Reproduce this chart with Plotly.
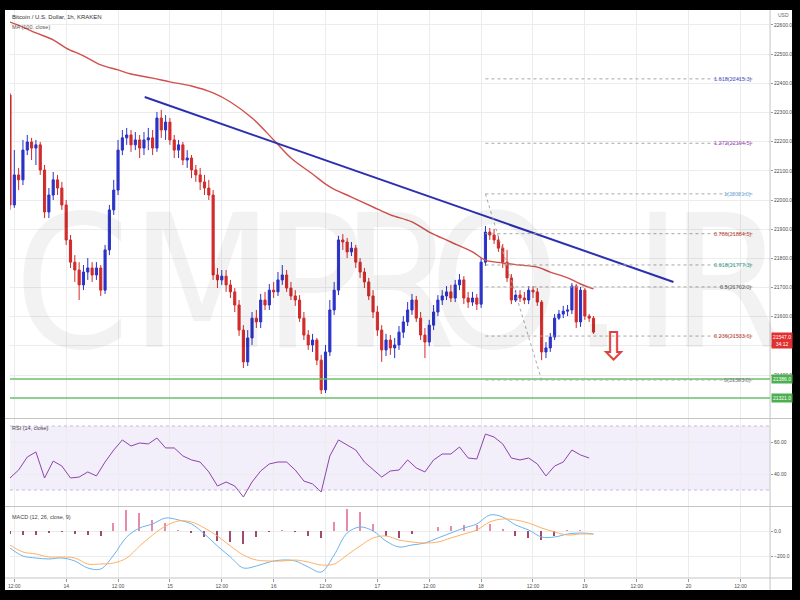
import pandas as pd
import plotly.graph_objects as go
from plotly.subplots import make_subplots

# ---------------- data ----------------
start_time = "2022-09-13 11:00"
n_candles = 136
first_open = 22360
closes = [21983, 22086, 22069, 22171, 22199, 22178, 22189, 22103, 21959, 22017,
          22069, 22041, 21983, 21863, 21787, 21760, 21709, 21753, 21767, 21743,
          21767, 21691, 21829, 21966, 22034, 22171, 22213, 22223, 22189, 22206,
          22178, 22206, 22213, 22178, 22281, 22240, 22267, 22206, 22171, 22189,
          22137, 22144, 22103, 22086, 22062, 22041, 22017, 21743, 21726, 21739,
          21709, 21685, 21640, 21554, 21445, 21527, 21595, 21582, 21657, 21640,
          21691, 21685, 21726, 21743, 21698, 21671, 21657, 21595, 21537, 21503,
          21520, 21451, 21349, 21479, 21623, 21691, 21863, 21856, 21822, 21835,
          21787, 21753, 21719, 21671, 21616, 21554, 21486, 21520, 21493, 21503,
          21547, 21582, 21623, 21657, 21595, 21537, 21513, 21571, 21616, 21657,
          21671, 21685, 21664, 21709, 21726, 21664, 21650, 21664, 21643, 21787,
          21890, 21880, 21863, 21835, 21787, 21733, 21657, 21674, 21664, 21657,
          21691, 21685, 21650, 21479, 21493, 21530, 21595, 21609, 21619, 21623,
          21705, 21582, 21691, 21602, 21595, 21547]
highs = [22367, 22171, 22110, 22206, 22223, 22213, 22206, 22199, 22120, 22041,
         22096, 22086, 22062, 22000, 21880, 21811, 21787, 21777, 21801, 21787,
         21787, 21777, 21846, 21983, 22069, 22206, 22240, 22247, 22240, 22233,
         22223, 22233, 22247, 22240, 22302, 22309, 22291, 22281, 22223, 22206,
         22199, 22171, 22154, 22120, 22110, 22086, 22069, 22034, 21767, 21760,
         21760, 21726, 21698, 21657, 21571, 21554, 21616, 21623, 21678, 21685,
         21712, 21719, 21753, 21777, 21760, 21719, 21691, 21674, 21616, 21554,
         21541, 21527, 21469, 21503, 21657, 21719, 21877, 21883, 21870, 21856,
         21846, 21801, 21767, 21733, 21691, 21637, 21571, 21541, 21537, 21527,
         21568, 21602, 21650, 21678, 21671, 21616, 21561, 21589, 21640, 21674,
         21691, 21705, 21709, 21726, 21746, 21739, 21685, 21685, 21678, 21801,
         21911, 21904, 21901, 21877, 21849, 21829, 21746, 21691, 21691, 21685,
         21705, 21705, 21698, 21657, 21513, 21544, 21609, 21623, 21637, 21640,
         21715, 21712, 21702, 21698, 21609, 21602]
lows = [21966, 21973, 22034, 22051, 22154, 22137, 22120, 22086, 21938, 21938,
        22000, 22017, 21966, 21846, 21767, 21719, 21657, 21691, 21726, 21719,
        21726, 21671, 21678, 21811, 21949, 22017, 22154, 22189, 22165, 22171,
        22144, 22154, 22171, 22154, 22165, 22213, 22206, 22189, 22144, 22144,
        22120, 22110, 22075, 22062, 22034, 22017, 22000, 21726, 21698, 21709,
        21685, 21664, 21616, 21534, 21424, 21431, 21503, 21561, 21561, 21623,
        21623, 21664, 21671, 21709, 21685, 21657, 21637, 21582, 21520, 21486,
        21479, 21434, 21335, 21338, 21465, 21606, 21674, 21829, 21801, 21808,
        21767, 21733, 21698, 21657, 21595, 21534, 21445, 21465, 21469, 21458,
        21486, 21527, 21568, 21606, 21582, 21520, 21458, 21499, 21554, 21602,
        21640, 21657, 21650, 21650, 21691, 21643, 21630, 21637, 21623, 21630,
        21774, 21863, 21849, 21822, 21767, 21719, 21643, 21650, 21650, 21643,
        21643, 21664, 21637, 21451, 21458, 21479, 21520, 21589, 21595, 21602,
        21609, 21561, 21565, 21589, 21582, 21541]

ma_index = [0, 3, 6, 10, 13, 17, 21, 25, 28, 33, 37, 42, 47, 51, 56, 61, 65, 70, 74,
            79, 84, 88, 93, 97, 102, 107, 110, 114, 118, 122, 125, 129, 132, 135]
ma_values = [22610, 22593, 22573, 22549, 22521, 22494, 22463, 22446, 22432, 22418,
             22405, 22391, 22367, 22336, 22281, 22206, 22144, 22089, 22045, 22010,
             21976, 21949, 21925, 21890, 21856, 21822, 21794, 21784, 21777, 21770,
             21753, 21733, 21712, 21695]

rsi_values = [37.5, 42.5, 50.6, 53.8, 37.5, 48.1, 45.0, 37.5, 38.1, 41.3,
              38.8, 47.5, 55.0, 61.3, 57.5, 59.4, 58.8, 62.5, 56.3, 56.3,
              51.3, 48.8, 47.5, 41.3, 32.5, 35.0, 32.5, 25.6, 35.0, 41.9,
              46.3, 47.5, 47.5, 42.5, 35.6, 33.8, 28.8, 51.3, 61.3, 58.1,
              55.0, 47.5, 42.5, 38.1, 41.9, 42.5, 48.8, 43.8, 41.3, 48.8,
              52.5, 52.5, 56.9, 50.0, 49.4, 65.0, 63.1, 58.8, 50.0, 48.8,
              50.0, 46.3, 38.8, 45.0, 47.5, 55.0, 51.9, 50.0]

macd_values = [-136, -200, -216, -224, -216, -240, -296, -304, -192, -48,
               24, 56, 104, 88, 56, -24, -120, -208, -296, -280,
               -248, -232, -240, -288, -328, -192, -16, 32, 0, -80,
               -128, -112, -96, -56, -16, 24, 56, 128, 112, 48,
               8, -48, -48, -24, -16, -24]
signal_values = [-112, -168, -184, -208, -208, -216, -264, -264, -256, -216,
                 -120, -32, 40, 80, 72, 24, -40, -120, -192, -232,
                 -240, -240, -232, -248, -272, -264, -192, -120, -56, -40,
                 -72, -88, -96, -88, -56, -24, 8, 72, 96, 88,
                 64, 24, -8, -32, -24, -24]
hist_values = [-24, -32, -32, -16, -8, -24, -32, -40, 64, 168,
               144, 88, 64, 8, -16, -48, -80, -88, -104, -48,
               -8, 8, -8, -40, -56, 72, 176, 152, 56, -40,
               -56, -24, 0, 32, 40, 48, 48, 56, 16, -40,
               -56, -72, -40, 8, 8, 0]

price_ticks = [21400, 21500, 21600, 21700, 21800, 21900, 22000, 22100, 22200,
               22300, 22400, 22500, 22600]
rsi_ticks = [40, 60]
macd_ticks = [-200, 0]
time_tick_start = "2022-09-13 12:00"
time_tick_labels = ["12:00", "14", "12:00", "15", "12:00", "16", "12:00", "17",
                    "12:00", "18", "12:00", "19", "12:00", "20", "12:00"]

trend_times = ["2022-09-14 18:10", "2022-09-19 20:30"]
trend_prices = [22353, 21719]
fib_low, fib_high = 21383, 22021
fib_levels = [0, 0.236, 0.5, 0.618, 0.786, 1, 1.272, 1.618]
fib_label_colors = ["#787b86", "#c0392b", "#555555", "#1e9e8a", "#c0392b",
                    "#64a8e0", "#a13fc0", "#4b4fd0"]
fib_times = ["2022-09-18 01:00", "2022-09-20 15:00"]
fib_diag_end = "2022-09-18 14:00"
support_prices = [21386, 21321]
arrow_time, arrow_price = "2022-09-19 06:40", 21500
countdown = "34:12"

# ---------------- figure ----------------
times = pd.date_range(start_time, periods=n_candles, freq="h")
opens = [first_open] + closes[:-1]
tick_times = pd.date_range(time_tick_start, periods=len(time_tick_labels), freq="12h")

W, H = 800, 600
def px(x):
    return x / W
def py(y):
    return 1 - y / H

fig = make_subplots(rows=3, cols=1, shared_xaxes=True, vertical_spacing=0.0)

fig.add_trace(go.Candlestick(
    x=times, open=opens, high=highs, low=lows, close=closes,
    increasing=dict(line=dict(color="#2b33c6", width=1), fillcolor="#2b33c6"),
    decreasing=dict(line=dict(color="#d12b2b", width=1), fillcolor="#d12b2b"),
    whiskerwidth=0, hoverinfo="skip"), row=1, col=1)

fig.add_trace(go.Scatter(
    x=times[ma_index], y=ma_values, mode="lines",
    line=dict(color="#d0504c", width=1.4, shape="spline"), hoverinfo="skip"),
    row=1, col=1)

fig.add_trace(go.Scatter(
    x=times[::2], y=rsi_values, mode="lines",
    line=dict(color="#8e44ad", width=1), hoverinfo="skip"), row=2, col=1)

macd_times = times[::3]
fig.add_trace(go.Bar(
    x=macd_times, y=hist_values, width=0.35 * 3600 * 1000,
    marker=dict(color=["#e88aac" if v >= 0 else "#a04a70" for v in hist_values],
                line=dict(width=0)), hoverinfo="skip"), row=3, col=1)
fig.add_trace(go.Scatter(
    x=macd_times, y=macd_values, mode="lines",
    line=dict(color="#6ab4f0", width=1, shape="spline"), hoverinfo="skip"), row=3, col=1)
fig.add_trace(go.Scatter(
    x=macd_times, y=signal_values, mode="lines",
    line=dict(color="#ffb066", width=1, shape="spline"), hoverinfo="skip"), row=3, col=1)

xrange = ["2022-09-13 11:00", "2022-09-20 18:51"]
xdom = [px(8), px(770)]
grid = "#ececec"
tickfont = dict(size=5, color="#4a4a4a")

for i, dom in zip([1, 2, 3], [[py(418), py(10)], [py(506), py(419)], [py(578), py(507)]]):
    xa = "xaxis" if i == 1 else f"xaxis{i}"
    ya = "yaxis" if i == 1 else f"yaxis{i}"
    fig.layout[xa].update(domain=xdom, range=xrange, tickvals=tick_times,
                          ticktext=time_tick_labels, showgrid=True, gridcolor=grid,
                          showticklabels=(i == 3), rangeslider=dict(visible=False),
                          zeroline=False, ticks="outside" if i == 3 else "",
                          ticklen=3, tickcolor="#999", tickfont=tickfont,
                          showline=False)
    fig.layout[ya].update(domain=dom, side="right", showgrid=True, gridcolor=grid,
                          zeroline=False, ticks="outside", ticklen=2,
                          tickcolor="#999", tickfont=tickfont, showline=False)

fig.update_yaxes(range=[21252.6, 22651.4], tickvals=price_ticks, tickformat=".1f", row=1, col=1)
fig.update_yaxes(range=[20.0, 74.4], tickvals=rsi_ticks, tickformat=".2f", row=2, col=1)
fig.update_yaxes(range=[-376, 192], tickvals=macd_ticks, tickformat=".1f", row=3, col=1)

shapes = []
# white chart area over black frame
shapes.append(dict(type="rect", xref="paper", yref="paper", x0=px(3), x1=px(792),
                   y0=py(590), y1=py(10), fillcolor="white", line=dict(width=0),
                   layer="below"))
# RSI band
shapes.append(dict(type="rect", xref="x2 domain", yref="y2", x0=0, x1=1, y0=30, y1=70,
                   fillcolor="rgba(155,120,215,0.13)", line=dict(width=0), layer="below"))
for lv in [30, 70]:
    shapes.append(dict(type="line", xref="x2 domain", yref="y2", x0=0, x1=1, y0=lv, y1=lv,
                       line=dict(color="#c8b8e0", width=1, dash="dot")))
# pane separators and axis border
for yy in [418.5, 506.5, 578]:
    shapes.append(dict(type="line", xref="paper", yref="paper", x0=px(3), x1=px(792),
                       y0=py(yy), y1=py(yy), line=dict(color="#c4c4c4", width=1)))
shapes.append(dict(type="line", xref="paper", yref="paper", x0=px(770), x1=px(770),
                   y0=py(590), y1=py(10), line=dict(color="#c4c4c4", width=1)))
# support lines
for sp in support_prices:
    shapes.append(dict(type="line", xref="x domain", yref="y", x0=0, x1=1, y0=sp, y1=sp,
                       line=dict(color="#6cbf6c", width=1.5)))
# trend line
shapes.append(dict(type="line", xref="x", yref="y", x0=trend_times[0], y0=trend_prices[0],
                   x1=trend_times[1], y1=trend_prices[1],
                   line=dict(color="#2c2fb0", width=2)))
# fib levels
fib_prices = [fib_low + r * (fib_high - fib_low) for r in fib_levels]
for fp in fib_prices:
    shapes.append(dict(type="line", xref="x", yref="y", x0=fib_times[0], x1=fib_times[1],
                       y0=fp, y1=fp, line=dict(color="#a8a8a8", width=1, dash="dot")))
shapes.append(dict(type="line", xref="x", yref="y", x0=fib_times[0], y0=fib_high,
                   x1=fib_diag_end, y1=fib_low,
                   line=dict(color="#a8a8a8", width=1, dash="dot")))
fig.update_layout(shapes=shapes)

ann = []
# watermark
for ch, cx in zip(list("CMPRO.IR"), [70, 200, 312, 398, 494, 598, 657, 728]):
    ann.append(dict(text=ch, x=px(cx), y=py(283), xref="paper", yref="paper",
                    xanchor="center", yanchor="middle", showarrow=False,
                    font=dict(size=185, color="rgba(0,0,0,0.05)",
                              family="Liberation Sans Narrow, DejaVu Sans Condensed, Arial Narrow, sans-serif")))
for r, fp, col in zip(fib_levels, fib_prices, fib_label_colors):
    ann.append(dict(text=f"{r}({fp:.1f})", x=fib_times[1], y=fp, xref="x", yref="y",
                    xanchor="right", yanchor="middle", showarrow=False,
                    font=dict(size=5.5, color=col)))
ann.append(dict(text="Bitcoin / U.S. Dollar, 1h, KRAKEN", x=px(8), y=py(17), xref="paper",
                yref="paper", xanchor="left", yanchor="middle", showarrow=False,
                font=dict(size=6, color="#333333")))
ann.append(dict(text="MA (100, close)", x=px(8), y=py(27), xref="paper", yref="paper",
                xanchor="left", yanchor="middle", showarrow=False,
                font=dict(size=5.5, color="#555555")))
ann.append(dict(text="USD", x=px(776), y=py(15), xref="paper", yref="paper",
                xanchor="left", yanchor="middle", showarrow=False,
                font=dict(size=5, color="#666666")))
ann.append(dict(text="RSI (14, close)", x=px(8), y=py(428), xref="paper", yref="paper",
                xanchor="left", yanchor="middle", showarrow=False,
                font=dict(size=5.5, color="#444444")))
ann.append(dict(text="MACD (12, 26, close, 9)", x=px(8), y=py(517), xref="paper", yref="paper",
                xanchor="left", yanchor="middle", showarrow=False,
                font=dict(size=5.5, color="#444444")))
for sp in support_prices:
    ann.append(dict(text=f"{sp:.1f}", x=px(771), y=sp, xref="paper", yref="y",
                    xanchor="left", yanchor="middle", showarrow=False,
                    bgcolor="#4caf50", borderpad=1,
                    font=dict(size=5, color="white")))
ann.append(dict(text=f"{closes[-1]:.1f}<br>{countdown}", x=px(771), y=closes[-1],
                xref="paper", yref="y", xanchor="left", yanchor="top", showarrow=False,
                bgcolor="#e03030", borderpad=1, font=dict(size=5, color="white")))
ann.append(dict(text="\u21e9", x=arrow_time, y=arrow_price, xref="x", yref="y",
                xanchor="center", yanchor="middle", showarrow=False,
                font=dict(size=40, color="#e04040", family="DejaVu Sans")))

fig.update_layout(width=W, height=H, margin=dict(l=0, r=0, t=0, b=0),
                  paper_bgcolor="black", plot_bgcolor="white", showlegend=False,
                  annotations=ann, bargap=0,
                  font=dict(family="Liberation Sans, Arial, sans-serif", size=6, color="#444"))

fig.write_html("out.html", config={"displayModeBar": False},
               post_script="document.body.style.margin='0';document.body.style.overflow='hidden';")
